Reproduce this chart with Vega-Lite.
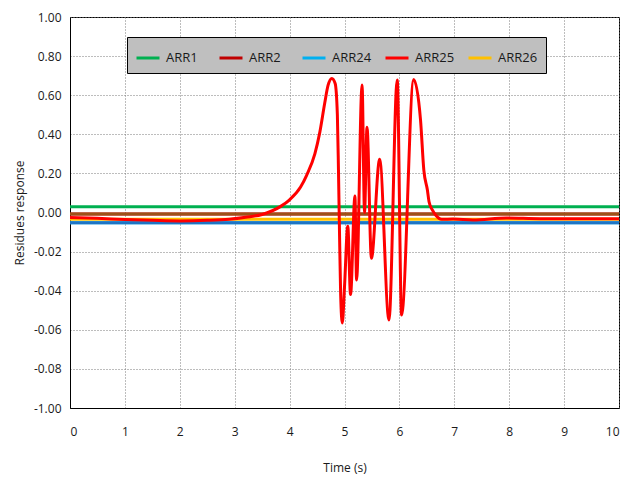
{
  "$schema": "https://vega.github.io/schema/vega-lite/v6.json",
  "width": 549,
  "height": 391,
  "autosize": "none",
  "padding": {"left": 70, "top": 17, "right": 16, "bottom": 70},
  "background": "white",
  "config": {
    "view": {"stroke": "black", "strokeWidth": 1},
    "font": "Open Sans",
    "axis": {
      "labelFont": "Open Sans",
      "labelFontSize": 12,
      "labelColor": "#1a1a1a",
      "titleFont": "Open Sans",
      "titleFontSize": 12,
      "titleFontWeight": "normal",
      "titleColor": "#1a1a1a",
      "domainColor": "black",
      "ticks": false,
      "gridColor": "#7a7a7a",
      "gridDash": [1, 2],
      "gridWidth": 1
    }
  },
  "data": {
    "values": [
      {"t": 0, "v": 0.03, "series": "ARR1"},
      {"t": 10, "v": 0.03, "series": "ARR1"},
      {"t": 0, "v": -0.008, "series": "ARR2"},
      {"t": 10, "v": -0.008, "series": "ARR2"},
      {"t": 0, "v": -0.052, "series": "ARR24"},
      {"t": 10, "v": -0.052, "series": "ARR24"},
      {"t": 0, "v": -0.034, "series": "ARR26"},
      {"t": 10, "v": -0.034, "series": "ARR26"},
      {"t": 0, "v": -0.008, "series": "Series 6"},
      {"t": 10, "v": -0.008, "series": "Series 6"},
      {"t": 0, "v": -0.052, "series": "Series 7"},
      {"t": 10, "v": -0.052, "series": "Series 7"},
      {"t": 0, "v": -0.026, "series": "ARR25"},
      {"t": 0.5, "v": -0.03, "series": "ARR25"},
      {"t": 1, "v": -0.036, "series": "ARR25"},
      {"t": 1.5, "v": -0.04, "series": "ARR25"},
      {"t": 2, "v": -0.043, "series": "ARR25"},
      {"t": 2.5, "v": -0.04, "series": "ARR25"},
      {"t": 2.9, "v": -0.034, "series": "ARR25"},
      {"t": 3.2, "v": -0.024, "series": "ARR25"},
      {"t": 3.5, "v": -0.01, "series": "ARR25"},
      {"t": 3.83, "v": 0.03, "series": "ARR25"},
      {"t": 4.0, "v": 0.065, "series": "ARR25"},
      {"t": 4.2, "v": 0.13, "series": "ARR25"},
      {"t": 4.31, "v": 0.19, "series": "ARR25"},
      {"t": 4.46, "v": 0.3, "series": "ARR25"},
      {"t": 4.55, "v": 0.41, "series": "ARR25"},
      {"t": 4.64, "v": 0.56, "series": "ARR25"},
      {"t": 4.7, "v": 0.65, "series": "ARR25"},
      {"t": 4.77, "v": 0.686, "series": "ARR25"},
      {"t": 4.83, "v": 0.66, "series": "ARR25"},
      {"t": 4.87, "v": 0.5, "series": "ARR25"},
      {"t": 4.89, "v": 0.22, "series": "ARR25"},
      {"t": 4.91, "v": -0.12, "series": "ARR25"},
      {"t": 4.93, "v": -0.42, "series": "ARR25"},
      {"t": 4.96, "v": -0.565, "series": "ARR25"},
      {"t": 5.0, "v": -0.38, "series": "ARR25"},
      {"t": 5.06, "v": -0.07, "series": "ARR25"},
      {"t": 5.11, "v": -0.42, "series": "ARR25"},
      {"t": 5.19, "v": 0.084, "series": "ARR25"},
      {"t": 5.22, "v": -0.345, "series": "ARR25"},
      {"t": 5.32, "v": 0.652, "series": "ARR25"},
      {"t": 5.365, "v": 0.0, "series": "ARR25"},
      {"t": 5.41, "v": 0.436, "series": "ARR25"},
      {"t": 5.49, "v": -0.234, "series": "ARR25"},
      {"t": 5.64, "v": 0.272, "series": "ARR25"},
      {"t": 5.81, "v": -0.55, "series": "ARR25"},
      {"t": 5.96, "v": 0.678, "series": "ARR25"},
      {"t": 6.04, "v": -0.524, "series": "ARR25"},
      {"t": 6.26, "v": 0.68, "series": "ARR25"},
      {"t": 6.385, "v": 0.473, "series": "ARR25"},
      {"t": 6.445, "v": 0.217, "series": "ARR25"},
      {"t": 6.51, "v": 0.115, "series": "ARR25"},
      {"t": 6.54, "v": 0.055, "series": "ARR25"},
      {"t": 6.6, "v": 0.013, "series": "ARR25"},
      {"t": 6.66, "v": -0.013, "series": "ARR25"},
      {"t": 6.77, "v": -0.035, "series": "ARR25"},
      {"t": 6.98, "v": -0.033, "series": "ARR25"},
      {"t": 7.34, "v": -0.038, "series": "ARR25"},
      {"t": 7.95, "v": -0.028, "series": "ARR25"},
      {"t": 8.56, "v": -0.032, "series": "ARR25"},
      {"t": 10, "v": -0.032, "series": "ARR25"}
    ]
  },
  "mark": {"type": "line", "interpolate": "monotone", "strokeWidth": 3, "clip": true},
  "encoding": {
    "x": {
      "field": "t",
      "type": "quantitative",
      "scale": {"domain": [0, 10], "nice": false},
      "axis": {
        "title": "Time (s)",
        "values": [0, 1, 2, 3, 4, 5, 6, 7, 8, 9, 10],
        "format": "d",
        "labelPadding": 18,
        "titlePadding": 25
      }
    },
    "y": {
      "field": "v",
      "type": "quantitative",
      "scale": {"domain": [-1, 1], "nice": false},
      "axis": {
        "title": "Residues response",
        "values": [-1, -0.8, -0.6, -0.4, -0.2, 0, 0.2, 0.4, 0.6, 0.8, 1],
        "labelExpr": "replace(datum.value >= -0.001 || datum.value <= -0.999 ? format(datum.value, '.2f') : format(datum.value / 10, '.2f'), '\u2212', '-')",
        "labelPadding": 9,
        "titlePadding": 7
      }
    },
    "color": {
      "field": "series",
      "type": "nominal",
      "scale": {
        "domain": ["ARR1", "ARR2", "ARR24", "ARR25", "ARR26", "Series 6", "Series 7"],
        "range": ["#00b050", "#c00000", "#00b0f0", "#ff0000", "#ffc000", "#9c5218", "#1f74c4"]
      },
      "legend": {
        "values": ["ARR1", "ARR2", "ARR24", "ARR25", "ARR26"],
        "title": null,
        "orient": "none",
        "legendX": 57,
        "legendY": 20,
        "direction": "horizontal",
        "columns": 5,
        "gridAlign": "all",
        "columnPadding": 7,
        "padding": 8,
        "fillColor": "#bfbfbf",
        "strokeColor": "black",
        "symbolType": "stroke",
        "symbolStrokeWidth": 3,
        "symbolSize": 529,
        "labelFont": "Open Sans",
        "labelFontSize": 13,
        "labelColor": "#1a1a1a",
        "labelOffset": 5
      }
    }
  }
}
